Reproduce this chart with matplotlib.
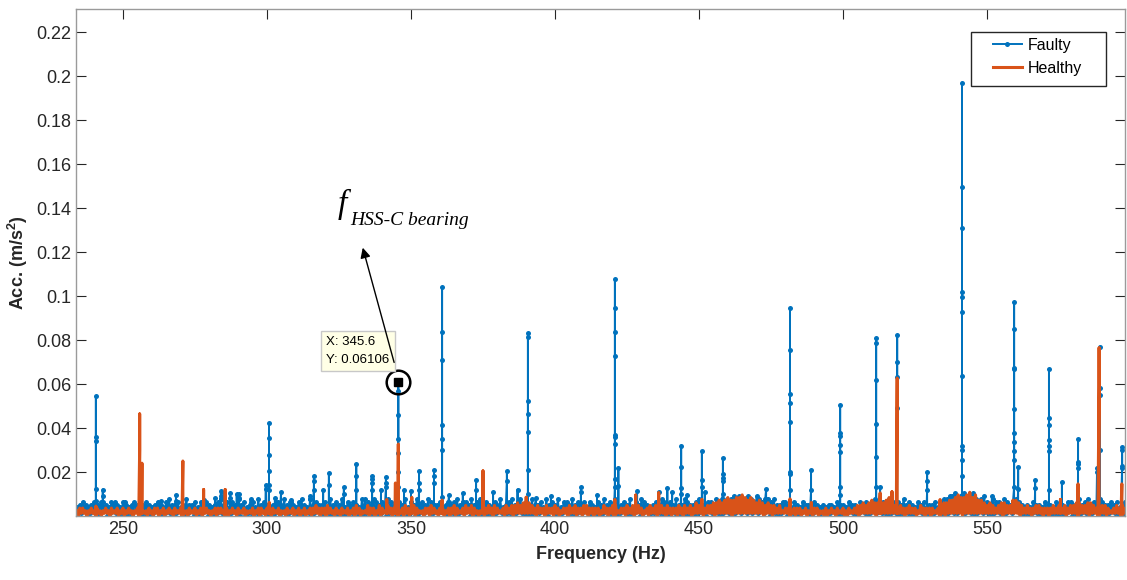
import matplotlib.pyplot as plt
from matplotlib.patches import Rectangle

# spectrum floor, two values per Hz starting at 234 Hz, as digits (see floor units below)
floor_start = 234
floor_step = 0.5
faulty_unit = 0.0013
healthy_unit = 0.0012
faulty_floor = [
    "31415240314253041523", "40315241403152403142", "52413041524031425340",
    "31526140415231406142", "40513051425041304152", "61425031524160425031",
    "41523160425041304152", "51426041524031506142", "31604152404152316041",
    "50416031524152403160", "61524160514152406152", "41605142603152406142",
    "51426051424152314051", "41506142515240614152", "60425041305142613041",
    "51604152614051406142", "41523160425041603152", "50416041524152315041",
    "31504162405142603142", "50416031524061524031", "41524160514052416041",
    "41605142405162414052", "51426150614251607152", "71526172615271625162",
    "60516140415250413152", "40315241403152403142", "30414231504140315241",
    "40315241504152615241", "51406142515041624150", "40315241503140415231",
    "51606172718162718152", "71806152617251406152", "51406152415262514031",
    "40315241403150414031", "50414031525041406142", "51604152416051404152",
    "4150314152",
]
healthy_floor = [
    "20313120213120312021", "31203121302130213120", "21303121203120313021",
    "30213120312130212031", "21302130213120213031", "31203021312031213021",
    "21302130312031203121", "30212031213021302130", "21303141303130413120",
    "31203121302130413021", "21403130214031214130", "31402130413021403121",
    "20313041312031302130", "31403121304131403120", "21303141304131213041",
    "31404151415161514130", "41313041313041302131", "30413140313041403130",
    "31302141303140412131", "30413140314130213041", "31403141304130313041",
    "30413140315141403141", "41505161516171606171", "71817161716151615041",
    "51404131412131302130", "31302130212031302120", "30213120312130203121",
    "31404151415161505161", "51617141413141303141", "31302141303130312130",
    "41505161617181707181", "91718161615141514131", "41505141416151504131",
    "41303141413031303141", "31413140314141505141", "41505141303141403121",
    "3141304131",
]

# peaks: frequency (Hz) and the heights of the dots on each spike
faulty_peak_freq = [240.6, 243.0, 247.2, 250.6, 263.2, 268.4, 278.0, 282.0, 284.0, 285.1,
                    287.2, 289.5, 290.3, 294.4, 299.6, 300.7, 302.8, 304.9, 308.3, 315.0,
                    316.3, 319.5, 321.5, 326.7, 331.0, 336.5, 339.6, 341.3, 345.6, 347.6,
                    350.0, 352.8, 358.0, 360.8, 363.2, 368.0, 372.6, 378.5, 383.3, 387.0,
                    390.6, 393.4, 398.6, 409.0, 414.6, 420.8, 422.0, 428.5, 436.0, 439.0,
                    440.7, 443.8, 445.8, 451.0, 452.0, 458.3, 473.3, 481.6, 488.9, 499.0,
                    511.5, 512.9, 518.8, 529.2, 541.3, 551.7, 559.4, 560.8, 566.7, 571.5,
                    576.0, 581.6, 588.2, 589.2, 596.9]
faulty_peak_amps = [
    [0.005, 0.0068, 0.0123, 0.034, 0.036, 0.0545],
    [0.0065, 0.009, 0.012],
    [0.0065],
    [0.0065],
    [0.0068],
    [0.007, 0.0095],
    [0.0075],
    [0.008],
    [0.009, 0.0114],
    [0.0105],
    [0.008, 0.0105],
    [0.01],
    [0.008, 0.01],
    [0.0077],
    [0.0125, 0.014],
    [0.012, 0.014, 0.0205, 0.0277, 0.0356, 0.0423],
    [0.008],
    [0.011],
    [0.0075],
    [0.009],
    [0.012, 0.016, 0.018],
    [0.012],
    [0.014, 0.0195],
    [0.01, 0.013],
    [0.012, 0.018, 0.0236],
    [0.012, 0.015, 0.017, 0.018],
    [0.012],
    [0.013, 0.015, 0.0177],
    [0.013, 0.02, 0.0285, 0.035, 0.046, 0.057, 0.06106],
    [0.012],
    [0.0115],
    [0.012, 0.015, 0.0205],
    [0.015, 0.018, 0.021],
    [0.0087, 0.03, 0.035, 0.0414, 0.0709, 0.0836, 0.104],
    [0.0095],
    [0.0105],
    [0.012, 0.0163],
    [0.011],
    [0.016, 0.0205],
    [0.012],
    [0.01, 0.021, 0.038, 0.0464, 0.0523, 0.0815, 0.0832],
    [0.008],
    [0.009],
    [0.011, 0.013],
    [0.0097],
    [0.0132, 0.0168, 0.0327, 0.036, 0.0368, 0.0727, 0.0836, 0.0945, 0.1077],
    [0.0135, 0.022],
    [0.0113],
    [0.011],
    [0.0128],
    [0.011],
    [0.01, 0.0128, 0.0223, 0.032],
    [0.0097],
    [0.013, 0.0164, 0.0295],
    [0.011],
    [0.0102, 0.016, 0.0175, 0.019, 0.0264],
    [0.0123],
    [0.0116, 0.019, 0.02, 0.0427, 0.0514, 0.0555, 0.0754, 0.0945],
    [0.012, 0.021],
    [0.0095, 0.013, 0.029, 0.0323, 0.0364, 0.0377, 0.0505],
    [0.013, 0.027, 0.042, 0.0618, 0.0786, 0.081],
    [0.013],
    [0.049, 0.063, 0.07, 0.0823],
    [0.012, 0.016, 0.02],
    [0.0095, 0.018, 0.0255, 0.03, 0.032, 0.0636, 0.0927, 0.0995, 0.102, 0.131, 0.1497, 0.197],
    [0.009],
    [0.0132, 0.0255, 0.0295, 0.0337, 0.0377, 0.0486, 0.0668, 0.0673, 0.085, 0.0973],
    [0.0124, 0.0222],
    [0.0127, 0.0164],
    [0.012, 0.0295, 0.032, 0.0345, 0.0414, 0.0445, 0.0668],
    [0.0155],
    [0.022, 0.0235, 0.0245, 0.035],
    [0.02, 0.022],
    [0.03, 0.055, 0.058, 0.077],
    [0.0218, 0.0229, 0.03, 0.0314],
]

healthy_peak_freq = [240.6, 255.8, 256.6, 270.8, 278.0, 285.5, 300.8, 341.6, 344.6, 345.6,
                     350.3, 360.8, 375.0, 390.0, 420.8, 428.0, 436.0, 451.0, 481.6, 489.0,
                     512.9, 517.0, 518.8, 533.7, 560.0, 575.5, 581.6, 588.9, 596.8]
healthy_peak_amps = [
    [0.0045], [0.03, 0.0464], [0.024], [0.025], [0.012], [0.012], [0.0062], [0.0075],
    [0.015], [0.0327], [0.0085], [0.0072], [0.0205], [0.0085], [0.0075], [0.0095],
    [0.0105], [0.0075], [0.0078], [0.006], [0.0105], [0.011], [0.0627], [0.0075],
    [0.007], [0.0075], [0.0146], [0.054, 0.0587, 0.0764], [0.0146],
]

# data tip on the bearing frequency
tip_x = 345.6
tip_y = 0.06106

ytick_vals = [0.02, 0.04, 0.06, 0.08, 0.1, 0.12, 0.14, 0.16, 0.18, 0.2, 0.22]
ytick_labels = ['0.02', '0.04', '0.06', '0.08', '0.1', '0.12', '0.14', '0.16', '0.18', '0.2', '0.22']
xtick_vals = [250, 300, 350, 400, 450, 500, 550]


def build_series(floor_strs, unit, peak_freq, peak_amps):
    # walk the floor in half Hz steps and drop each spike in where it belongs
    floor = [int(c) * unit for c in ''.join(floor_strs)]
    x = []
    y = []
    for i, v in enumerate(floor):
        f = floor_start + i * floor_step
        x.append(f)
        y.append(v)
        for pf, amps in zip(peak_freq, peak_amps):
            if f <= pf < f + floor_step:
                for a in sorted(amps):
                    x.append(pf)
                    y.append(a)
                x.append(pf)
                y.append(v)
    return x, y


plt.rcParams['font.family'] = ['Liberation Sans', 'DejaVu Sans']
plt.rcParams['mathtext.fontset'] = 'custom'
plt.rcParams['mathtext.rm'] = 'Liberation Sans'
plt.rcParams['mathtext.bf'] = 'Liberation Sans:bold'

fx, fy = build_series(faulty_floor, faulty_unit, faulty_peak_freq, faulty_peak_amps)
hx, hy = build_series(healthy_floor, healthy_unit, healthy_peak_freq, healthy_peak_amps)

fig = plt.figure(figsize=(11.27, 5.8), dpi=100)
ax = fig.add_axes([76 / 1127, 64 / 580, 1049 / 1127, 507 / 580])

ax.plot(fx, fy, '-o', color='#0072BD', lw=1.4, ms=3.6, mew=0, label='Faulty')
ax.plot(hx, hy, '-', color='#D95319', lw=2.2, label='Healthy')

ax.set_xlim(233.7, 597.9)
ax.set_ylim(0, 0.2305)
ax.set_xticks(xtick_vals)
ax.set_yticks(ytick_vals)
ax.set_yticklabels(ytick_labels)
ax.tick_params(direction='in', length=7, width=0.8, colors='#262626', labelsize=13,
               top=True, right=True)
for s in ax.spines.values():
    s.set_color('#9a9a9a')
    s.set_linewidth(1)

ax.set_xlabel('Frequency (Hz)', fontsize=13, fontweight='bold', color='#262626', labelpad=6)
ax.set_ylabel(r'Acc. (m/s$^\mathbf{2}$)', fontsize=13, fontweight='bold', color='#262626', labelpad=4)

# legend box, MATLAB style with wide side padding
ax.add_patch(Rectangle((971 / 1127, 494 / 580), 135 / 1127, 54 / 580, transform=fig.transFigure,
                       fc='white', ec='#262626', lw=1, zorder=4))
leg = ax.legend(loc='upper left', bbox_to_anchor=(993 / 1127, 542 / 580),
                bbox_transform=fig.transFigure, borderaxespad=0, borderpad=0,
                fontsize=11.5, frameon=False, handlelength=1.8, handletextpad=0.35,
                labelspacing=0.5)
leg.set_zorder(5)

# data tip marker, circle and label box
ax.plot([tip_x], [tip_y], 's', color='black', ms=6)
ax.plot([tip_x], [tip_y], 'o', mfc='none', mec='black', mew=1.8, ms=17)
ax.text(320.6, 0.0818, 'X: %.1f\nY: %.5f' % (tip_x, tip_y), fontsize=9.5, va='top', ha='left',
        linespacing=1.65,
        bbox=dict(boxstyle='square,pad=0.4', fc='#FFFFE6', ec='#c8c8c8', lw=1))

# arrow pointing to the bearing label
ax.annotate('', xy=(333.0, 0.1232), xytext=(344.4, 0.0686),
            arrowprops=dict(arrowstyle='-|>', color='black', lw=1, mutation_scale=15))
ax.text(324.4, 0.1378, 'f', family='Liberation Serif', style='italic', fontsize=24)
ax.text(328.9, 0.1323, 'HSS-C bearing', family='Liberation Serif', style='italic', fontsize=14)

plt.savefig('out.png', dpi=100)
